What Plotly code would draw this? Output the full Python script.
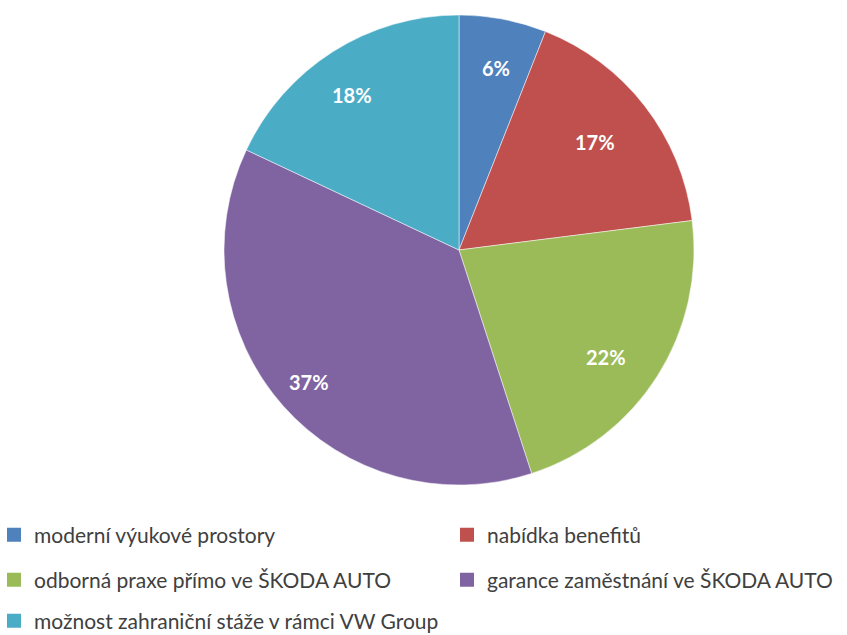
import math
import plotly.graph_objects as go

labels = [
    "moderní výukové prostory",
    "nabídka benefitů",
    "odborná praxe přímo ve ŠKODA AUTO",
    "garance zaměstnání ve ŠKODA AUTO",
    "možnost zahraniční stáže v rámci VW Group",
]
values = [6, 17, 22, 37, 18]
colors = ["#4F81BD", "#C0504D", "#9BBB59", "#8064A2", "#4BACC6"]
legend_rows = [0, 0, 1, 1, 2]
legend_cols = [0, 1, 0, 1, 0]

W, H = 847, 635
DX0, DX1, DY0, DY1 = 224 / W, 694 / W, 1 - 485 / H, 1 - 15 / H

fig = go.Figure()
fig.add_trace(go.Pie(
    labels=labels,
    values=values,
    sort=False,
    direction="clockwise",
    rotation=0,
    marker=dict(colors=colors, line=dict(color="white", width=0.5)),
    textinfo="none",
    showlegend=False,
    domain=dict(x=[DX0, DX1], y=[DY0, DY1]),
    hoverinfo="label+percent",
))

# percentage labels placed near the outer part of each slice
total = sum(values)
cx_px = (DX0 + DX1) / 2 * W
cy_px = (1 - (DY0 + DY1) / 2) * H
R = (DX1 - DX0) * W / 2
cum = 0
for v in values:
    ang = math.radians((cum + v / 2) / total * 360)
    cum += v
    x_px = cx_px + 0.85 * R * math.sin(ang)
    y_px = cy_px - 0.85 * R * math.cos(ang)
    fig.add_annotation(
        x=x_px / W, y=1 - y_px / H, xref="paper", yref="paper",
        text=f"{v / total:.0%}", showarrow=False,
        font=dict(family="Lato", size=20, color="white", weight="bold"),
    )

# legend entries: one single-item legend per cell (3 rows x 2 columns)
row_y = [535, 580, 621]
col_x = [-6, 447]
legend_common = dict(
    orientation="h", xanchor="left", yanchor="middle",
    font=dict(family="Lato", size=21, color="#404040"),
    itemwidth=30, bgcolor="rgba(0,0,0,0)",
)
layout_legends = {}
for i, (lab, col, r, c) in enumerate(zip(labels, colors, legend_rows, legend_cols)):
    name = "legend" if i == 0 else f"legend{i + 1}"
    fig.add_trace(go.Scatter(
        x=[None], y=[None], mode="markers", name=lab,
        marker=dict(symbol="square", color=col, size=14),
        legend=name, showlegend=True, hoverinfo="skip",
    ))
    layout_legends[name] = dict(x=col_x[c] / W, y=1 - row_y[r] / H, **legend_common)

fig.update_layout(
    width=W, height=H,
    margin=dict(l=0, r=0, t=0, b=0, autoexpand=False),
    paper_bgcolor="white",
    plot_bgcolor="white",
    xaxis=dict(visible=False),
    yaxis=dict(visible=False),
    **layout_legends,
)

fig.write_html("out.html")
